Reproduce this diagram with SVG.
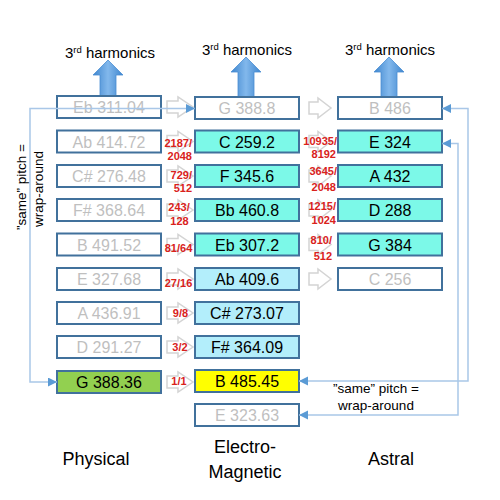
<svg xmlns="http://www.w3.org/2000/svg" xmlns:xlink="http://www.w3.org/1999/xlink" width="500" height="500" viewBox="0 0 500 500">
<defs>
<style>
.bx{stroke:#41719C;stroke-width:2}
.w{fill:#FFFFFF}
.cy{fill:#7CF9E8}
.lb{fill:#B3EEFB}
.gr{fill:#92D050}
.ye{fill:#FFFF00}
.t{font-family:"Liberation Sans",Arial,sans-serif;font-size:16px;text-anchor:middle}
.tg{fill:#BFBFBF}
.tk{fill:#000000}
.r{font-family:"Liberation Sans",Arial,sans-serif;font-size:11px;font-weight:bold;fill:#D9221C}
.m{text-anchor:middle}
.e{text-anchor:end}
.lab{font-family:"Liberation Sans",Arial,sans-serif;fill:#000000;text-anchor:middle}
.ha{fill:#FFFFFF;stroke:#D4D4D4;stroke-width:1.5}
.wc{fill:none;stroke:#A9C7E8;stroke-width:1.5}
</style>
<marker id="ah" markerUnits="userSpaceOnUse" markerWidth="10" markerHeight="10" refX="9" refY="4.5" orient="auto-start-reverse">
<path d="M0,0 L9,4.5 L0,9 z" fill="#5B9BD5"/>
</marker>
<linearGradient id="bg" x1="0" y1="0" x2="1" y2="0">
<stop offset="0" stop-color="#3F86CE"/>
<stop offset="0.5" stop-color="#82B8EC"/>
<stop offset="1" stop-color="#3F86CE"/>
</linearGradient>
<polygon id="hol" class="ha" points="0,-6 11,-6 11,-10 26,0 11,10 11,6 0,6"/>
<polygon id="hor" class="ha" points="0,-6 9,-6 9,-10 22,0 9,10 9,6 0,6"/>
</defs>
<rect width="500" height="500" fill="#FFFFFF"/>

<!-- harmonic arrows -->
<g id="harmonics">
<polygon fill="url(#bg)" stroke="#4A8ED3" stroke-width="0.8" points="108,60 123,75 116,75 116,96 100,96 100,75 93,75"/>
<polygon fill="url(#bg)" stroke="#4A8ED3" stroke-width="0.8" points="246,57 261,72 254,72 254,97 238,97 238,72 231,72"/>
<polygon fill="url(#bg)" stroke="#4A8ED3" stroke-width="0.8" points="389,57 404,72 397,72 397,97 381,97 381,72 374,72"/>
<text class="lab" x="110" y="58" font-size="15">3<tspan font-size="9.5" dy="-5.5">rd</tspan><tspan dy="5.5"> harmonics</tspan></text>
<text class="lab" x="247" y="55" font-size="15">3<tspan font-size="9.5" dy="-5.5">rd</tspan><tspan dy="5.5"> harmonics</tspan></text>
<text class="lab" x="390" y="55" font-size="15">3<tspan font-size="9.5" dy="-5.5">rd</tspan><tspan dy="5.5"> harmonics</tspan></text>
</g>

<!-- hollow step arrows -->
<g id="steps">
<use xlink:href="#hol" x="167" y="107"/>
<use xlink:href="#hol" x="167" y="141.5"/>
<use xlink:href="#hol" x="167" y="176"/>
<use xlink:href="#hol" x="167" y="210"/>
<use xlink:href="#hol" x="167" y="244.5"/>
<use xlink:href="#hol" x="167" y="279"/>
<use xlink:href="#hol" x="167" y="313"/>
<use xlink:href="#hol" x="167" y="347"/>
<use xlink:href="#hol" x="167" y="382"/>
<use xlink:href="#hor" x="309" y="108"/>
<use xlink:href="#hor" x="309" y="141.5"/>
<use xlink:href="#hor" x="309" y="176"/>
<use xlink:href="#hor" x="309" y="210"/>
<use xlink:href="#hor" x="309" y="244.5"/>
<use xlink:href="#hor" x="309" y="279"/>
</g>

<!-- Physical column -->
<g id="p-eb"><rect class="bx w" x="57" y="96" width="104" height="22"/><text class="t tg" x="109" y="113">Eb 311.04</text></g>
<g id="p-ab"><rect class="bx w" x="57" y="130.5" width="104" height="22"/><text class="t tg" x="109" y="147.5">Ab 414.72</text></g>
<g id="p-cs"><rect class="bx w" x="57" y="165" width="104" height="22"/><text class="t tg" x="109" y="182">C# 276.48</text></g>
<g id="p-fs"><rect class="bx w" x="57" y="199" width="104" height="22"/><text class="t tg" x="109" y="216">F# 368.64</text></g>
<g id="p-b"><rect class="bx w" x="57" y="233.5" width="104" height="22"/><text class="t tg" x="109" y="250.5">B 491.52</text></g>
<g id="p-e"><rect class="bx w" x="57" y="268" width="104" height="22"/><text class="t tg" x="109" y="285">E 327.68</text></g>
<g id="p-a"><rect class="bx w" x="57" y="302" width="104" height="22"/><text class="t tg" x="109" y="319">A 436.91</text></g>
<g id="p-d"><rect class="bx w" x="57" y="336" width="104" height="22"/><text class="t tg" x="109" y="353">D 291.27</text></g>
<g id="p-g"><rect class="bx gr" x="57" y="371" width="104" height="22"/><text class="t tk" x="109" y="388">G 388.36</text></g>

<!-- Electro-Magnetic column -->
<g id="em-g"><rect class="bx w" x="195" y="97" width="104" height="22"/><text class="t tg" x="247" y="114">G 388.8</text></g>
<g id="em-c"><rect class="bx cy" x="195" y="130.5" width="104" height="22"/><text class="t tk" x="247" y="147.5">C 259.2</text></g>
<g id="em-f"><rect class="bx cy" x="195" y="165" width="104" height="22"/><text class="t tk" x="247" y="182">F 345.6</text></g>
<g id="em-bb"><rect class="bx cy" x="195" y="199" width="104" height="22"/><text class="t tk" x="247" y="216">Bb 460.8</text></g>
<g id="em-eb"><rect class="bx cy" x="195" y="233.5" width="104" height="22"/><text class="t tk" x="247" y="250.5">Eb 307.2</text></g>
<g id="em-ab"><rect class="bx lb" x="195" y="268" width="104" height="22"/><text class="t tk" x="247" y="285">Ab 409.6</text></g>
<g id="em-cs"><rect class="bx lb" x="195" y="302" width="104" height="22"/><text class="t tk" x="247" y="319">C# 273.07</text></g>
<g id="em-fs"><rect class="bx lb" x="195" y="336" width="104" height="22"/><text class="t tk" x="247" y="353">F# 364.09</text></g>
<g id="em-b"><rect class="bx ye" x="195" y="370" width="104" height="22"/><text class="t tk" x="247" y="387">B 485.45</text></g>
<g id="em-e"><rect class="bx w" x="195" y="404" width="104" height="22"/><text class="t tg" x="247" y="421">E 323.63</text></g>

<!-- Astral column -->
<g id="as-b"><rect class="bx w" x="338" y="97" width="104" height="22"/><text class="t tg" x="390" y="114">B 486</text></g>
<g id="as-e"><rect class="bx cy" x="338" y="130.5" width="104" height="22"/><text class="t tk" x="390" y="147.5">E 324</text></g>
<g id="as-a"><rect class="bx cy" x="338" y="165" width="104" height="22"/><text class="t tk" x="390" y="182">A 432</text></g>
<g id="as-d"><rect class="bx cy" x="338" y="199" width="104" height="22"/><text class="t tk" x="390" y="216">D 288</text></g>
<g id="as-g"><rect class="bx cy" x="338" y="233.5" width="104" height="22"/><text class="t tk" x="390" y="250.5">G 384</text></g>
<g id="as-c"><rect class="bx w" x="338" y="268" width="104" height="22"/><text class="t tg" x="390" y="285">C 256</text></g>

<!-- connectors -->
<g id="connectors">
<path class="wc" d="M57,382 H30 V108.5 H195" marker-start="url(#ah)" marker-end="url(#ah)"/>
<path class="wc" d="M442,108.5 H468 V381 H299" marker-start="url(#ah)" marker-end="url(#ah)"/>
<path class="wc" d="M442,143.5 H458 V415 H299" marker-start="url(#ah)" marker-end="url(#ah)"/>
</g>

<!-- ratio labels -->
<g id="ratios">
<text class="r e" x="192" y="146.5">2187/</text>
<text class="r e" x="192" y="160">2048</text>
<text class="r e" x="192" y="178.5">729/</text>
<text class="r e" x="192" y="192">512</text>
<text class="r m" x="179" y="210.5">243/</text>
<text class="r m" x="179.5" y="225">128</text>
<text class="r m" x="178.5" y="251.5">81/64</text>
<text class="r m" x="178.5" y="286.5">27/16</text>
<text class="r m" x="180.5" y="317">9/8</text>
<text class="r m" x="180" y="350.5">3/2</text>
<text class="r m" x="179" y="385">1/1</text>
<text class="r e" x="337" y="145">10935/</text>
<text class="r e" x="336" y="158">8192</text>
<text class="r e" x="337" y="174.5">3645/</text>
<text class="r e" x="336" y="190.5">2048</text>
<text class="r e" x="336" y="210">1215/</text>
<text class="r e" x="336" y="224">1024</text>
<text class="r e" x="332" y="243.5">810/</text>
<text class="r e" x="332" y="260">512</text>
</g>

<!-- annotations -->
<g id="notes">
<text class="lab" font-size="13.5" transform="translate(26,187) rotate(-90)">”same” pitch =</text>
<text class="lab" font-size="13.5" transform="translate(43,189) rotate(-90)">wrap-around</text>
<text class="lab" font-size="13.5" x="376" y="393">”same” pitch =</text>
<text class="lab" font-size="13.5" x="376" y="409.5">wrap-around</text>
<text class="lab" font-size="18" x="96" y="465">Physical</text>
<text class="lab" font-size="18" x="245" y="453">Electro-</text>
<text class="lab" font-size="18" x="245" y="478">Magnetic</text>
<text class="lab" font-size="18" x="391" y="465">Astral</text>
</g>
</svg>
